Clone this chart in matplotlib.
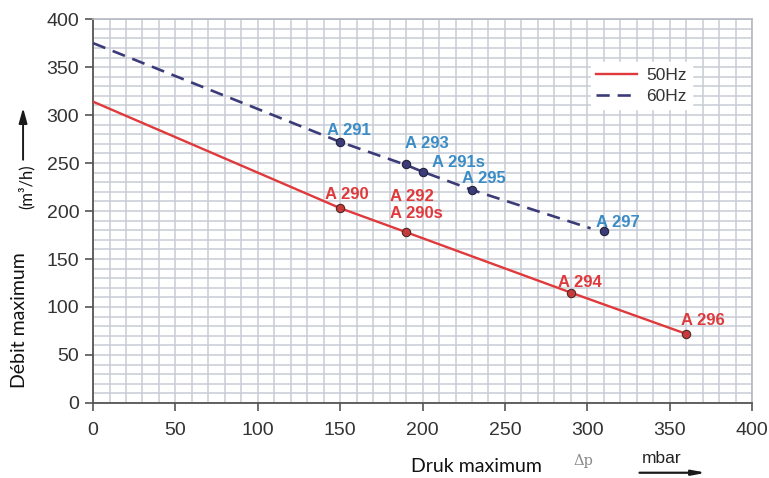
import matplotlib.pyplot as plt
from matplotlib.ticker import MultipleLocator

# 50Hz curve and its pump points
hz50_x = [0, 150, 190, 290, 360]
hz50_y = [314, 203, 178, 115, 72]
pts50_x = [150, 190, 290, 360]
pts50_y = [203, 178, 115, 72]
lab50 = ['A 290', 'A 292\nA 290s', 'A 294', 'A 296']

# 60Hz curve and its pump points
hz60_x = [0, 150, 190, 200, 230, 302]
hz60_y = [375, 272, 248, 241, 222, 182]
pts60_x = [150, 190, 200, 230, 310]
pts60_y = [272, 249, 241, 222, 179]
lab60 = ['A 291', 'A 293', 'A 291s', 'A 295', 'A 297']

red = '#e0393b'
navy = '#3b3b78'
blue = '#3a8cc6'
grid_c = '#c8ccd5'

fig = plt.figure(figsize=(7.69, 4.78), dpi=100)
ax = fig.add_axes([0.121, 0.157, 0.857, 0.803])

ax.set_xlim(0, 400)
ax.set_ylim(0, 400)
ax.xaxis.set_major_locator(MultipleLocator(50))
ax.yaxis.set_major_locator(MultipleLocator(50))
ax.xaxis.set_minor_locator(MultipleLocator(10))
ax.yaxis.set_minor_locator(MultipleLocator(10))
ax.grid(which='both', color=grid_c, linewidth=1.1)
ax.set_axisbelow(True)
ax.tick_params(which='minor', length=0)
ax.tick_params(which='major', direction='out', length=6, width=1.2,
               color='#555555', labelsize=14, labelcolor='#333333', pad=4)
for lbl in ax.get_xticklabels() + ax.get_yticklabels():
    lbl.set_family('Liberation Sans')
ax.tick_params(axis='x', pad=8)

for s in ['top', 'right']:
    ax.spines[s].set_color('#b4b8c0')
    ax.spines[s].set_linewidth(1.2)
for s in ['left', 'bottom']:
    ax.spines[s].set_color('#555555')
    ax.spines[s].set_linewidth(1.3)

ax.plot(hz50_x, hz50_y, color=red, lw=1.7, label='50Hz', zorder=3)
ax.plot(hz60_x, hz60_y, color=navy, lw=1.9, ls=(0, (5, 3)), label='60Hz', zorder=3)
ax.scatter(pts50_x, pts50_y, s=36, color='#c83a3a', edgecolors='#4a2a2a', linewidths=0.8, zorder=4)
ax.scatter(pts60_x, pts60_y, s=36, color=navy, edgecolors='#22223f', linewidths=0.8, zorder=4)

# label offsets (data units) from each point, to the text baseline
off50 = [(-9, 9.5), (-10, 14.5), (-8, 6), (-3, 9)]
off60 = [(-8, 7), (-0.6, 16.5), (6, 5), (-6, 7), (-5, 4)]
for x, y, t, (dx, dy) in zip(pts50_x, pts50_y, lab50, off50):
    ax.text(x + dx, y + dy, t, color=red, fontsize=12, fontweight='bold',
            family='Liberation Sans', va='baseline', ha='left', linespacing=1.15, zorder=5)
for x, y, t, (dx, dy) in zip(pts60_x, pts60_y, lab60, off60):
    ax.text(x + dx, y + dy, t, color=blue, fontsize=12, fontweight='bold',
            family='Liberation Sans', va='baseline', ha='left', zorder=5)

leg = ax.legend(loc='upper right', bbox_to_anchor=(0.922, 0.91), frameon=True,
                fancybox=False, edgecolor='white', framealpha=1, handlelength=2.4,
                prop={'family': 'Liberation Sans', 'size': 12.5}, borderpad=0.3,
                labelspacing=0.35, handletextpad=0.5)
for t in leg.get_texts():
    t.set_color('#333333')

# axis captions
fig.text(0.026, 0.33, 'Débit maximum', rotation=90, family='Lato', fontsize=14,
         ha='center', va='center', color='#111111')
fig.text(0.034, 0.61, '(m³/h)', rotation=90, family='Lato', fontsize=12,
         ha='center', va='center', color='#111111')
fig.add_artist(plt.Annotation('', xy=(0.03, 0.78), xytext=(0.03, 0.66),
                              xycoords='figure fraction',
                              arrowprops=dict(arrowstyle='-|>,head_width=0.25,head_length=0.9',
                                              color='#1a1a1a', lw=1.4)))
fig.text(0.62, 0.025, 'Druk maximum', family='Lato', fontsize=14,
         ha='center', va='center', color='#111111')
fig.text(0.758, 0.035, 'Δp', family='DejaVu Serif', fontsize=10.5,
         ha='center', va='center', color='#8a8a8a')
fig.text(0.861, 0.04, 'mbar', family='Liberation Sans', fontsize=12.5,
         ha='center', va='center', color='#222222')
fig.add_artist(plt.Annotation('', xy=(0.922, 0.011), xytext=(0.828, 0.011),
                              xycoords='figure fraction',
                              arrowprops=dict(arrowstyle='-|>,head_width=0.15,head_length=0.8',
                                              color='#1a1a1a', lw=1.6)))

fig.savefig('out.png', dpi=100)
